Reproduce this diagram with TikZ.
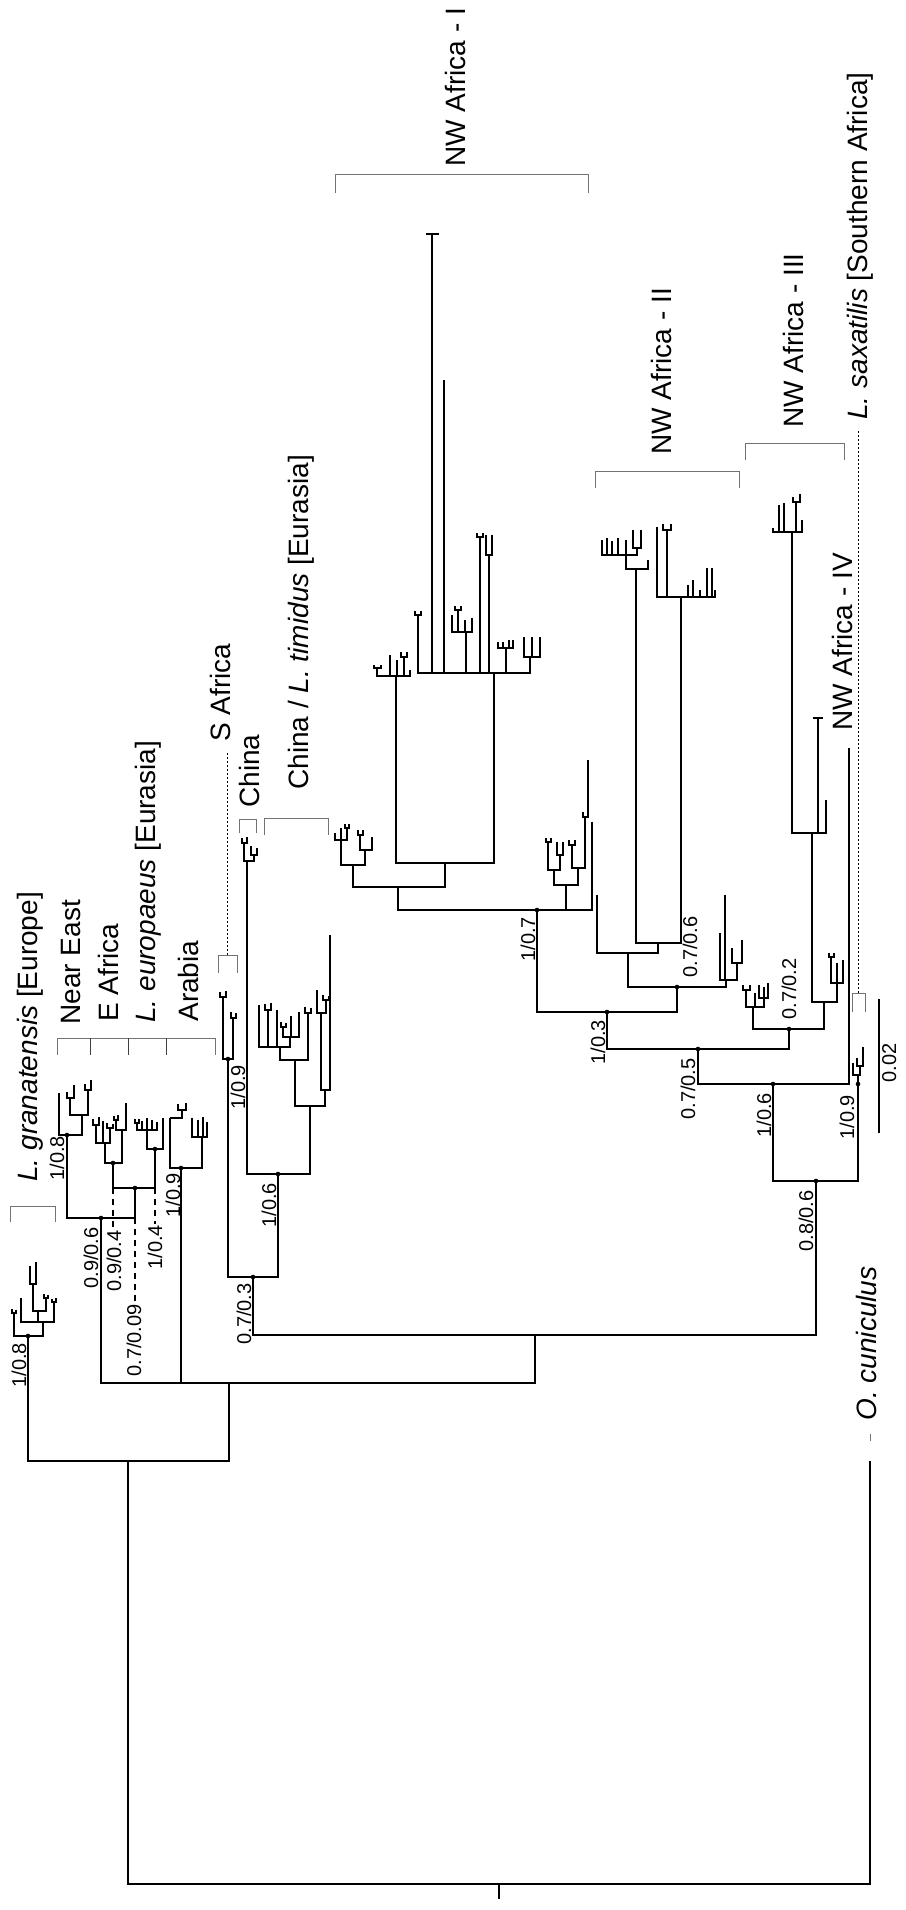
\documentclass[tikz,border=0pt]{standalone}
\usepackage{fontspec}
\setmainfont{Liberation Sans}
\begin{document}
\begin{tikzpicture}[x=0.5pt,y=-0.5pt,
    br/.style={line width=0.65pt},
    brk/.style={line width=0.5pt, black!55},
    lnk/.style={line width=0.5pt, dash pattern=on 1pt off 1pt},
    dsh/.style={line width=0.55pt, dash pattern=on 3pt off 2.5pt},
    clade/.style={rotate=90, anchor=base west, inner sep=0pt, font=\fontsize{14}{16}\selectfont},
    supp/.style={rotate=90, anchor=base west, inner sep=0pt, font=\fontsize{10}{12}\selectfont}]
\useasboundingbox (0,0) rectangle (905,1910);

% backbone nodes
\coordinate (root) at (499,1884);
\coordinate (lep) at (128,1461);
\coordinate (ory) at (870,1461);
\coordinate (gra) at (28,1336);
\coordinate (ga) at (14,1313);
\coordinate (gb) at (43,1322);
\coordinate (eua) at (229,1383);
\coordinate (eur) at (101,1218);
\coordinate (ne) at (67,1135);
\coordinate (eub) at (135,1188);
\coordinate (eaf) at (113,1163);
\coordinate (leu) at (155,1149);
\coordinate (ara) at (181,1168);
\coordinate (afa) at (535,1335);
\coordinate (tim) at (253,1277);
\coordinate (saf) at (228,1059);
\coordinate (chi) at (278,1174);
\coordinate (chn) at (247,861);
\coordinate (ta) at (310,1106);
\coordinate (tb) at (295,1060);
\coordinate (tc) at (325,1090);
\coordinate (td) at (280,1047);
\coordinate (te) at (308,1013);
\coordinate (nwr) at (816,1181);
\coordinate (nwa) at (773,1084);
\coordinate (sax) at (858,1084);
\coordinate (nw4) at (849,748);
\coordinate (nwb) at (698,1049);
\coordinate (nwc) at (607,1012);
\coordinate (nwd) at (789,1029);
\coordinate (nw1r) at (537,910);
\coordinate (nw2r) at (677,987);
\coordinate (nw1a) at (398,887);
\coordinate (nw1b) at (566,885);
\coordinate (nw1t) at (592,822);
\coordinate (nw1c) at (353,865);
\coordinate (nw1d) at (445,863);
\coordinate (nw1e) at (396,676);
\coordinate (nw1f) at (494,673);
\coordinate (nw2a) at (628,953);
\coordinate (nw2b) at (726,980);
\coordinate (nw2t) at (597,895);
\coordinate (nw2c) at (658,943);
\coordinate (nw2d) at (636,569);
\coordinate (nw2e) at (681,597);
\coordinate (nwe) at (753,1007);
\coordinate (nwf) at (824,1002);
\coordinate (nw3r) at (812,833);
\coordinate (nwg) at (837,983);
\coordinate (nw3) at (792,532);
\coordinate (nwt) at (818,718);
\coordinate (nwu) at (826,800);

% branches
\draw[br] (root) -- (499,1899);
\draw[br] (root) -| (lep) (root) -| (ory);
\draw[br] (lep) -| (gra) (lep) -| (eua);
\draw[br] (eua) -| (eur) (eua) -| (ara) (eua) -| (afa);
\draw[br] (eur) -| (ne) (eur) -| (eub);
\draw[br] (eub) -| (eaf) (eub) -| (leu);
\draw[br] (afa) -| (tim) (afa) -| (nwr);
\draw[br] (tim) -| (saf) (tim) -| (chi);
\draw[br] (chi) -| (chn) (chi) -| (ta);
\draw[br] (ta) -| (tb) (ta) -| (tc);
\draw[br] (tb) -| (td) (tb) -| (te);
\draw[br] (nwr) -| (nwa) (nwr) -| (sax);
\draw[br] (nwa) -| (nwb) (nwa) -| (nw4);
\draw[br] (nwb) -| (nwc) (nwb) -| (nwd);
\draw[br] (nwc) -| (nw1r) (nwc) -| (nw2r);
\draw[br] (nw1r) -| (nw1a) (nw1r) -| (nw1b) (nw1r) -| (nw1t);
\draw[br] (nw1a) -| (nw1c) (nw1a) -| (nw1d);
\draw[br] (nw1d) -| (nw1e) (nw1d) -| (nw1f);
\draw[br] (nw2r) -| (nw2a) (nw2r) -| (nw2b);
\draw[br] (nw2a) -| (nw2t) (nw2a) -| (nw2c);
\draw[br] (nw2c) -| (nw2d) (nw2c) -| (nw2e);
\draw[br] (nwd) -| (nwe) (nwd) -| (nwf);
\draw[br] (nwf) -| (nw3r) (nwf) -| (nwg);
\draw[br] (nw3r) -| (nw3) (nw3r) -| (nwt) (nw3r) -| (nwu);

% L. granatensis
\draw[br] (gra) -| (ga) (gra) -| (gb);
\draw[br] (12,1309) |- (16,1313) -- (16,1310);
\draw[br] (21,1298) |- (54,1322) -- (54,1302);
\draw[br] (38,1322) -- (38,1311) (33,1284) |- (46,1311) -- (46,1298);
\draw[br] (30,1266) |- (36,1284) -- (36,1262);
\draw[br] (44,1294) |- (48,1298) -- (48,1295);
\draw[br] (52,1299) |- (56,1302) -- (56,1298);

% Near East
\draw[br] (59,1093) |- (82,1135) -- (82,1115);
\draw[br] (70,1098) |- (88,1115) -- (88,1090);
\draw[br] (67,1092) |- (74,1098) -- (74,1085);
\draw[br] (85,1084) |- (91,1090) -- (91,1080);

% E Africa
\draw[br] (105,1143) |- (122,1163) -- (122,1130);
\draw[br] (96,1125) |- (110,1143) -- (110,1128);
\draw[br] (103,1143) -- (103,1121);
\draw[br] (93,1119) |- (99,1125) -- (99,1117);
\draw[br] (107,1123) |- (113,1128) -- (113,1124);
\draw[br] (116,1120) |- (126,1130) -- (126,1103);
\draw[br] (114,1116) |- (118,1120) -- (118,1115);

% L. europaeus
\draw[br] (147,1130) |- (163,1149) -- (163,1118);
\draw[br] (137,1123) |- (157,1130) -- (157,1122);
\draw[br] (142,1130) -- (142,1121) (147,1130) -- (147,1118) (152,1130) -- (152,1120);
\draw[br] (135,1119) |- (139,1123) -- (139,1119);

% Arabia
\draw[br] (170,1118) |- (202,1168) -- (202,1137);
\draw[br] (170,1118) -- (182,1118) -- (182,1110);
\draw[br] (178,1104) |- (186,1110) -- (186,1103);
\draw[br] (192,1118) |- (207,1137) -- (207,1122);
\draw[br] (198,1137) -- (198,1120) (203,1137) -- (203,1117);

% S Africa, China, L. timidus
\draw[br] (223,997) |- (233,1059) -- (233,1018);
\draw[br] (220,992) |- (226,997) -- (226,991);
\draw[br] (231,1012) |- (236,1018) -- (236,1013);
\draw[br] (244,843) |- (254,861) -- (254,855);
\draw[br] (242,838) |- (247,843) -- (247,837);
\draw[br] (251,846) |- (257,855) -- (257,848);
\draw[br] (259,1005) |- (290,1047) -- (290,1037);
\draw[br] (268,1047) -- (268,1010) (277,1047) -- (277,1010);
\draw[br] (265,1004) |- (271,1010) -- (271,1003);
\draw[br] (283,1027) |- (299,1037) -- (299,1012);
\draw[br] (291,1037) -- (291,1016);
\draw[br] (281,1022) |- (286,1027) -- (286,1023);
\draw[br] (305,1007) |- (311,1013) -- (311,1008);
\draw[br] (321,1013) |- (330,1090) -- (330,935);
\draw[br] (317,990) |- (326,1013) -- (326,1000);
\draw[br] (323,995) |- (329,1000) -- (329,996);

% NW Africa - I
\draw[br] (341,840) |- (365,865) -- (365,850);
\draw[br] (335,833) |- (347,840) -- (347,828);
\draw[br] (341,840) -- (341,828);
\draw[br] (345,824) |- (349,828) -- (349,824);
\draw[br] (360,835) |- (372,850) -- (372,837);
\draw[br] (358,830) |- (363,835) -- (363,830);
\draw[br] (377,668) |- (410,676) -- (410,670);
\draw[br] (390,676) -- (390,655) (397,676) -- (397,660) (404,676) -- (404,657);
\draw[br] (374,665) |- (381,668) -- (381,665);
\draw[br] (401,652) |- (407,657) -- (407,652);
\draw[br] (418,615) |- (530,673) -- (530,657);
\draw[br] (415,611) |- (421,615) -- (421,611);
\draw[br] (432,673) -- (432,234) (426,234) -- (439,234);
\draw[br] (444,673) -- (444,380);
\draw[br] (466,673) -- (466,632);
\draw[br] (452,615) |- (472,632) -- (472,618);
\draw[br] (458,632) -- (458,610) (465,632) -- (465,620);
\draw[br] (455,606) |- (461,610) -- (461,606);
\draw[br] (480,673) -- (480,537) (477,533) |- (483,537) -- (483,533);
\draw[br] (489,673) -- (489,555) (486,535) |- (492,555) -- (492,535);
\draw[br] (506,673) -- (506,648) (498,642) |- (513,648) -- (513,640);
\draw[br] (503,648) -- (503,642) (509,648) -- (509,640);
\draw[br] (524,637) |- (540,657) -- (540,637);
\draw[br] (532,657) -- (532,637);
\draw[br] (554,870) |- (578,885) -- (578,868);
\draw[br] (548,842) |- (560,870) -- (560,855);
\draw[br] (546,838) |- (551,842) -- (551,838);
\draw[br] (557,842) |- (563,855) -- (563,842);
\draw[br] (572,845) |- (585,868) -- (585,817);
\draw[br] (569,840) |- (575,845) -- (575,840);
\draw[br] (583,812) |- (588,817) -- (588,760);

% NW Africa - II
\draw[br] (626,555) |- (648,569) -- (648,560);
\draw[br] (602,540) |- (637,555) -- (637,548);
\draw[br] (607,555) -- (607,538) (612,555) -- (612,541) (618,555) -- (618,538) (626,555) -- (626,540);
\draw[br] (633,530) |- (641,548) -- (641,530);
\draw[br] (657,527) |- (715,597) -- (715,590);
\draw[br] (667,597) -- (667,530) (663,524) |- (671,530) -- (671,524);
\draw[br] (688,597) -- (688,585) (693,597) -- (693,580) (700,597) -- (700,590) (707,597) -- (707,568) (712,597) -- (712,568);
\draw[br] (720,933) |- (737,980) -- (737,963);
\draw[br] (725,980) -- (725,895);
\draw[br] (732,948) |- (742,963) -- (742,940);

% NW Africa - III and rest
\draw[br] (746,990) |- (764,1007) -- (764,987);
\draw[br] (755,1007) -- (755,993);
\draw[br] (743,985) |- (750,990) -- (750,985);
\draw[br] (759,985) |- (768,998) -- (768,983);
\draw[br] (831,957) |- (843,983) -- (843,960);
\draw[br] (837,983) -- (837,963);
\draw[br] (829,953) |- (834,957) -- (834,953);
\draw[br] (773,528) |- (802,532) -- (802,520);
\draw[br] (779,532) -- (779,505) (784,532) -- (784,503) (796,532) -- (796,502);
\draw[br] (793,497) |- (800,502) -- (800,494);
\draw[br] (813,718) -- (823,718);

% L. saxatilis
\draw[br] (sax) -- (858,1075) (853,1063) |- (860,1075) -- (860,1066);
\draw[br] (857,1058) |- (863,1066) -- (863,1047);

% O. cuniculus
\draw[brk] (870,1434) -- (870,1441);

% node dots
\fill (gra) circle (2.3) (ne) circle (2.3) (eur) circle (2.3) (eub) circle (2.3)
      (eaf) circle (2.3) (leu) circle (2.3) (ara) circle (2.3) (tim) circle (2.3)
      (saf) circle (2.3) (chi) circle (2.3) (nw1r) circle (2.3) (nwc) circle (2.3)
      (nw2r) circle (2.3) (nwb) circle (2.3) (nwd) circle (2.3) (nwa) circle (2.3)
      (sax) circle (2.3) (nwr) circle (2.3);

% dashed leaders
\draw[dsh] (113,1188) -- (113,1230);
\draw[dsh] (135,1218) -- (135,1305);
\draw[dsh] (155,1188) -- (155,1224);

% brackets
\draw[brk] (10,1222) -- (10,1206) -- (55,1206) -- (55,1222);
\draw[brk] (57,1055) -- (57,1038) -- (215,1038) -- (215,1055);
\draw[brk, black!75] (90,1038) -- (90,1055) (128,1038) -- (128,1055) (166,1038) -- (166,1055);
\draw[brk] (218,973) -- (218,955) -- (237,955) -- (237,973);
\draw[brk] (239,833) -- (239,819) -- (256,819) -- (256,833);
\draw[brk] (264,835) -- (264,818) -- (328,818) -- (328,835);
\draw[brk] (335,193) -- (335,175) -- (588,175) -- (588,193);
\draw[brk] (595,488) -- (595,471) -- (739,471) -- (739,488);
\draw[brk] (745,460) -- (745,443) -- (844,443) -- (844,460);
\draw[brk] (852,1012) -- (852,993) -- (865,993) -- (865,1012);
\draw[lnk] (227,955) -- (227,753);
\draw[lnk] (858,993) -- (858,429);

% scale bar
\draw[br] (879,999) -- (879,1133);
\node[supp] (scl) at (896,1083) {0.02};

% clade labels
\node[clade] (lgra) at (37,1182) {\textit{L. granatensis} [Europe]};
\node[clade] (lne) at (80,1025) {Near East};
\node[clade] (leaf) at (118,1022) {E Africa};
\node[clade] (lleu) at (155,1023) {\textit{L. europaeus} [Eurasia]};
\node[clade] (lara) at (198,1022) {Arabia};
\node[clade] (lsaf) at (230,742) {S Africa};
\node[clade] (lchn) at (259,808) {China};
\node[clade] (ltim) at (308,790) {China / \textit{L. timidus} [Eurasia]};
\node[clade] (lnw1) at (465,167) {NW Africa - I};
\node[clade] (lnw2) at (671,455) {NW Africa - II};
\node[clade] (lnw3) at (803,428) {NW Africa - III};
\node[clade] (lnw4) at (852,731) {NW Africa - IV};
\node[clade] (lsax) at (867,420) {\textit{L. saxatilis} [Southern Africa]};
\node[clade] (lory) at (876,1421) {\textit{O. cuniculus}};

% support values
\node[supp] (sgra) at (26,1388) {1/0.8};
\node[supp] (sne) at (64,1181) {1/0.8};
\node[supp] (seur) at (98,1289) {0.9/0.6};
\node[supp] (seaf) at (121,1292) {0.9/0.4};
\node[supp] (seub) at (141,1377) {0.7/0.09};
\node[supp] (sleu) at (162,1270) {1/0.4};
\node[supp] (sara) at (180,1218) {1/0.9};
\node[supp] (ssaf) at (245,1110) {1/0.9};
\node[supp] (schi) at (276,1228) {1/0.6};
\node[supp] (stim) at (251,1345) {0.7/0.3};
\node[supp] (snw1) at (535,962) {1/0.7};
\node[supp] (snwc) at (605,1065) {1/0.3};
\node[supp] (snw2) at (697,978) {0.7/0.6};
\node[supp] (snwb) at (695,1120) {0.7/0.5};
\node[supp] (snwd) at (796,1020) {0.7/0.2};
\node[supp] (snwa) at (771,1138) {1/0.6};
\node[supp] (ssax) at (854,1140) {1/0.9};
\node[supp] (snwr) at (813,1252) {0.8/0.6};
\end{tikzpicture}
\end{document}
